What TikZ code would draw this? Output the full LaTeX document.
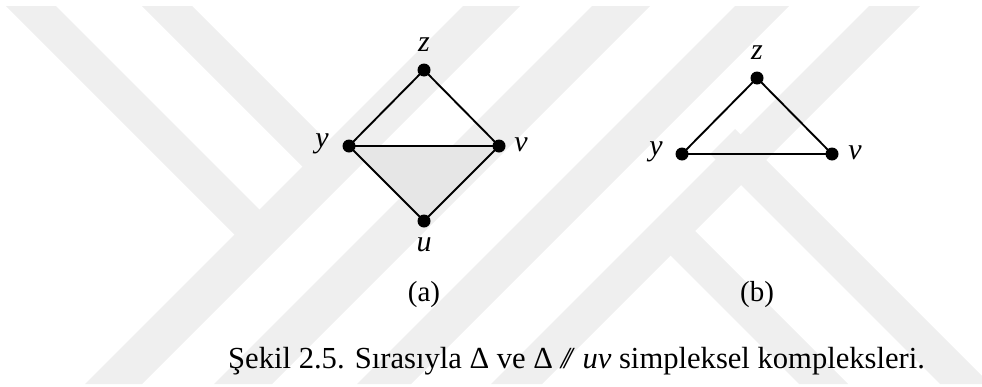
\documentclass[tikz,border=0pt]{standalone}
\usepackage{fontspec}
\setmainfont{Liberation Serif}
\definecolor{wmgray}{RGB}{239,239,239}
\definecolor{facegray}{RGB}{230,230,230}
\pgfdeclarelayer{bg}
\pgfsetlayers{bg,main}
\begin{document}
\begin{tikzpicture}[x=1pt,y=-1pt,
  dot/.style={circle,fill=black,inner sep=0pt,minimum size=13pt},
  lbl/.style={inner sep=0pt,font=\fontsize{30}{30}\selectfont\itshape},
  sub/.style={inner sep=0pt,font=\fontsize{29}{29}\selectfont},
  edgeline/.style={line width=1.9pt,line join=round},
  wm/.style={fill=wmgray}]
\useasboundingbox (0,0) rectangle (982,386);

% (a)
\node[dot] (za) at (424,70) {};
\node[dot] (ya) at (349,146) {};
\node[dot] (va) at (499,146) {};
\node[dot] (ua) at (424,221) {};
\node[lbl] (lza) at (424,45) {z};
\node[lbl] (lya) at (322,144) {y};
\node[lbl] (lva) at (521,145) {v};
\node[lbl] (lua) at (424,245) {u};
\node[sub] (capa) at (424,295) {(a)};

% (b)
\node[dot] (zb) at (757,78) {};
\node[dot] (yb) at (682,154) {};
\node[dot] (vb) at (832,154) {};
\node[lbl] (lzb) at (757,53) {z};
\node[lbl] (lyb) at (656,152) {y};
\node[lbl] (lvb) at (855,153) {v};
\node[sub] (capb) at (757,295) {(b)};

% caption
\node[sub,anchor=base west,font=\fontsize{30.6}{30.6}\selectfont] (cap) at (228,368)
  {Şekil 2.5. Sırasıyla Δ ve Δ \textit{/\kern-0.17em/} \textit{uv} simpleksel kompleksleri.};

\begin{pgfonlayer}{bg}
  % watermark
  \begin{scope}
    \clip (0,6) rectangle (982,384);
    \fill[wm] (6,6) -- (56,6) -- (265,215) -- (240,240) -- cycle;
    \fill[wm] (142,6) -- (192,6) -- (336,150) -- (311,175) -- cycle;
    \fill[wm] (463,6) -- (520,6) -- (142,384) -- (85,384) -- cycle;
    \fill[wm] (592,6) -- (650,6) -- (272,384) -- (214,384) -- cycle;
    \fill[wm] (735,6) -- (789,6) -- (411,384) -- (357,384) -- cycle;
    \fill[wm] (869,6) -- (920,6) -- (542,384) -- (491,384) -- cycle;
    \fill[wm] (710,154) -- (735,129) -- (990,384) -- (940,384) -- cycle;
    \fill[wm] (661,246) -- (686,222) -- (848,384) -- (799,384) -- cycle;
  \end{scope}
  % filled face
  \fill[facegray] (ya.center) -- (va.center) -- (ua.center) -- cycle;
  % edges
  \draw[edgeline] (ya.center) -- (za.center) -- (va.center) -- (ua.center) -- (ya.center) -- (va.center);
  \draw[edgeline] (yb.center) -- (zb.center) -- (vb.center) -- (yb.center);
\end{pgfonlayer}
\end{tikzpicture}
\end{document}
